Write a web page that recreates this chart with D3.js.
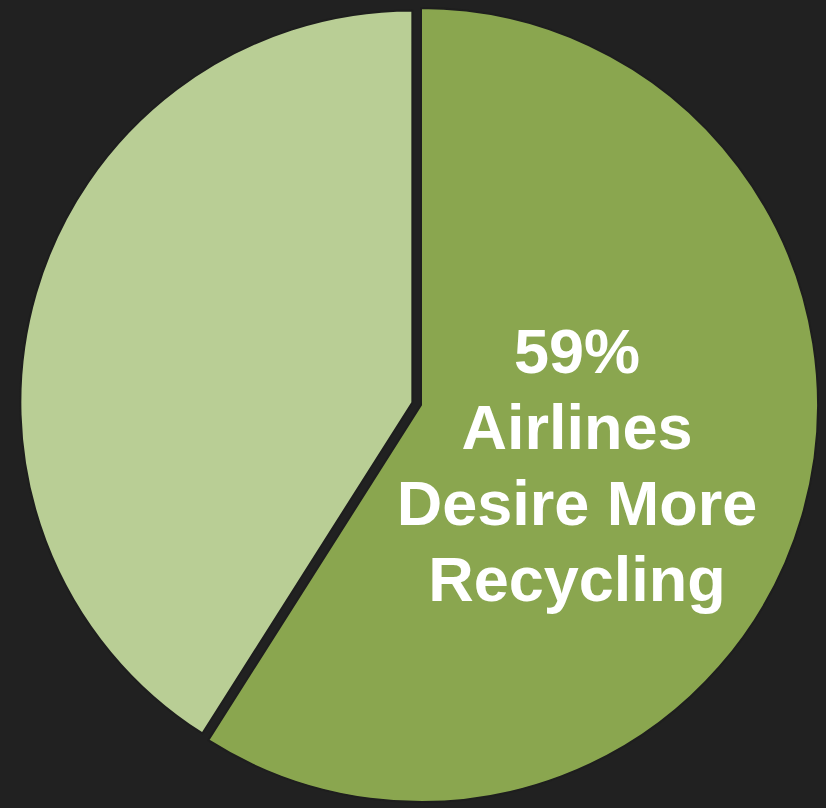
<!DOCTYPE html>
<html>
<head>
<meta charset="utf-8">
<script src="https://cdn.jsdelivr.net/npm/d3@7"></script>
<style>
  html, body { margin: 0; padding: 0; background: #212121; }
  svg { display: block; }
</style>
</head>
<body>
<svg id="chart" width="826" height="808"></svg>
<script>
const categories = ["Airlines Desire More Recycling", "Other"];
const values = [59, 41];
const colors = ["#8aa64f", "#b9ce95"];
const labelLines = ["59%", "Airlines", "Desire More", "Recycling"];

const svg = d3.select("#chart");
svg.append("rect").attr("width", 826).attr("height", 808).attr("fill", "#212121");

const pie = d3.pie().sort(null).value(d => d.v).startAngle(0).endAngle(2 * Math.PI);
const arcs = pie(categories.map((c, i) => ({ c, v: values[i] })));

const cx = 421, cy = 405;
const radii = [397, 392];
const explode = [0, 9];

arcs.forEach((a, i) => {
  const mid = (a.startAngle + a.endAngle) / 2;
  const dx = Math.sin(mid) * explode[i];
  const dy = -Math.cos(mid) * explode[i];
  const arc = d3.arc().innerRadius(0).outerRadius(radii[i]);
  svg.append("path")
    .attr("transform", `translate(${cx + dx},${cy + dy})`)
    .attr("d", arc(a))
    .attr("fill", colors[i])
    .attr("stroke", "#1e1e1e")
    .attr("stroke-width", 2);
});

const text = svg.append("text")
  .attr("text-anchor", "middle")
  .attr("fill", "#ffffff")
  .style("font-family", "'Liberation Sans', Arial, sans-serif")
  .style("font-weight", "bold")
  .style("font-size", "63px");
const baselines = [373, 449, 525, 601];
labelLines.forEach((t, i) => {
  text.append("tspan").attr("x", 577).attr("y", baselines[i]).text(t);
});
</script>
</body>
</html>
